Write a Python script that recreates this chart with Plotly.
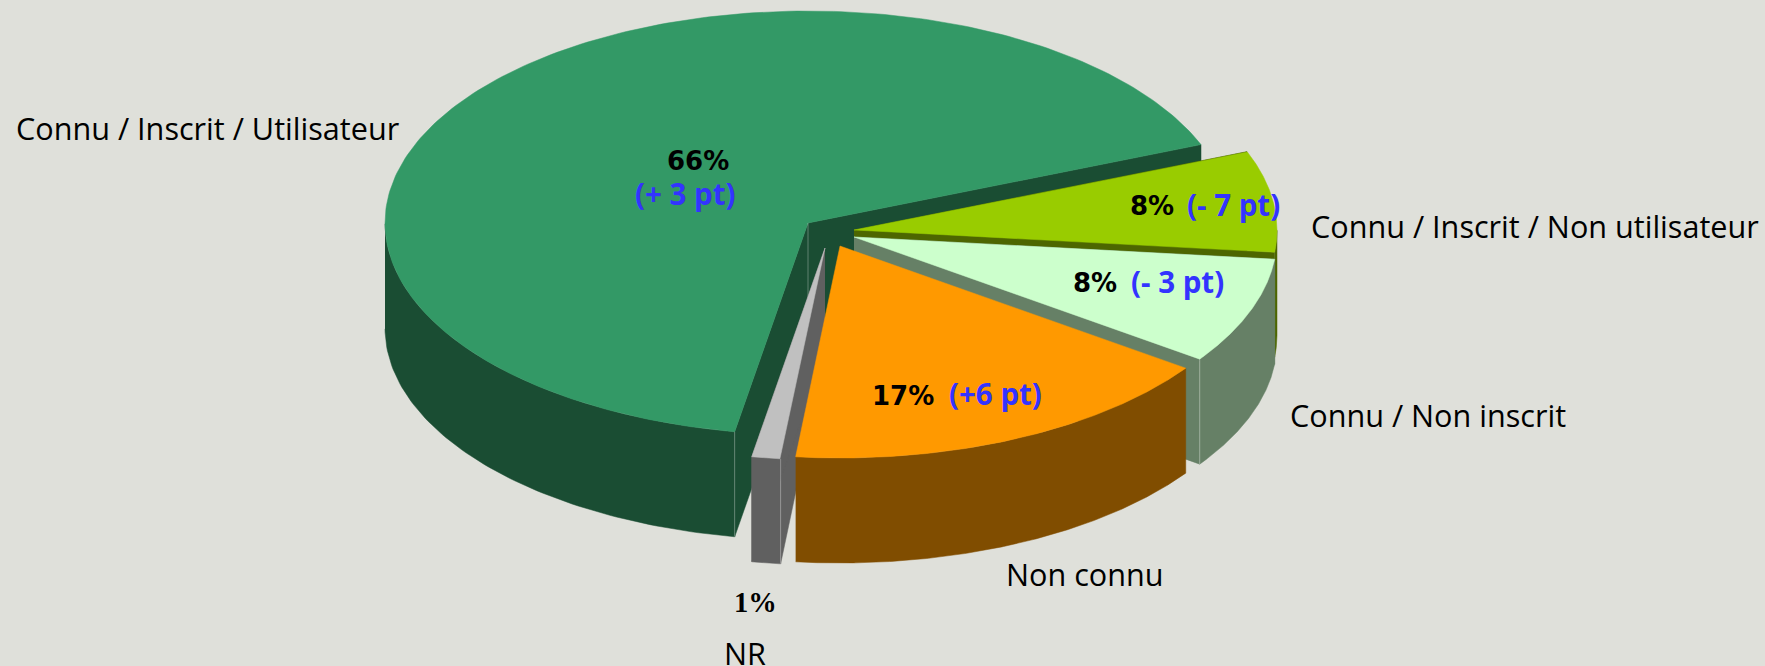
import numpy as np
import plotly.graph_objects as go

# ---- data (clockwise from the start angle) ----
categories = ["Connu / Inscrit / Non utilisateur", "Connu / Non inscrit", "Non connu", "NR", "Connu / Inscrit / Utilisateur"]
values = [7.7, 8.1, 16.9, 1.1, 66.2]
percent_labels = ["8%", "8%", "17%", "1%", "66%"]
delta_labels = ["(- 7 pt)", "(- 3 pt)", "(+6 pt)", "", "(+ 3 pt)"]

# ---- styles / geometry ----
W, H = 1765, 666
BG = "#DFE0DA"
START = 21.7
RX, RY, DEPTH = 423, 212, 105
top_colors = ["#99CC00", "#CCFFCC", "#FF9900", "#C0C0C0", "#339966"]
side_colors = ["#4D6600", "#668066", "#804D00", "#606060", "#1A4D33"]
apex = [(854, 230), (854, 237), (840, 246), (825, 248), (808, 223)]
draw_order = [4, 0, 1, 3, 2]
label_xy = [(1308.5, 226), (1288, 415), (1004, 574), (722, 653), (13.5, 128)]
pct_xy = [(1128, 206), (1071, 283), (870, 396), (732, 602), (665, 161)]
delta_xy = [(1185, 204), (1129, 281), (947, 393), None, (633, 193)]
BLUE = "#3333FF"

fig = go.Figure()


def poly(xs, ys, color):
    fig.add_trace(go.Scatter(x=xs, y=ys, mode="lines", fill="toself", fillcolor=color,
                             line=dict(color=color, width=0.5), hoverinfo="skip", showlegend=False))


def seam(x, y, color):
    fig.add_trace(go.Scatter(x=[x, x], y=[y, y + DEPTH], mode="lines",
                             line=dict(color=color, width=1), hoverinfo="skip", showlegend=False))


shares = np.array(values) / np.sum(values) * 360.0
ends = START - np.cumsum(shares)
starts = ends + shares
seam_color = "rgba(255,255,255,0.3)"

for i in draw_order:
    cx, cy = apex[i]
    a0, a1 = starts[i], ends[i]
    px = lambda deg: cx + RX * np.cos(np.radians(deg))
    py = lambda deg: cy - RY * np.sin(np.radians(deg))
    # cut faces (the orange slice shows none to the viewer)
    if i != 2:
        for a in (a0, a1):
            poly([cx, px(a), px(a), cx], [cy, py(a), py(a) + DEPTH, cy + DEPTH], side_colors[i])
    # outer rim: the part of the arc on the viewer's side
    t = np.linspace(a1, a0, 240)
    s = np.mod(t, 360)
    front = t[(s >= 180) & (s <= 360)]
    if front.size:
        poly(np.r_[px(front), px(front)[::-1]], np.r_[py(front), (py(front) + DEPTH)[::-1]], side_colors[i])
    # top
    t = np.linspace(a0, a1, 240)
    poly(np.r_[cx, px(t), cx], np.r_[cy, py(t), cy], top_colors[i])
    # lighter seams between faces
    if i == 4:
        seam(cx, cy, seam_color)
        seam(px(ends[3]), py(ends[3]), seam_color)
    if i == 3:
        seam(px(a0), py(a0), seam_color)
    if i == 1:
        seam(px(a1), py(a1), seam_color)

ann = []


def text(x, y, s, size, color="#000000", family="Open Sans", bold=False):
    ann.append(dict(x=x, y=y, xref="x", yref="y", text=f"<b>{s}</b>" if bold else s, showarrow=False,
                    xanchor="left", yanchor="middle", align="left",
                    font=dict(family=family, size=size, color=color)))


for i, name in enumerate(categories):
    text(label_xy[i][0], label_xy[i][1], name, 30.6, family="Open Sans")
    if percent_labels[i] == "1%":
        text(pct_xy[i][0], pct_xy[i][1], percent_labels[i], 28.5, family="Liberation Serif", bold=True)
    else:
        text(pct_xy[i][0], pct_xy[i][1], percent_labels[i], 26, family="DejaVu Sans", bold=True)
    if delta_labels[i]:
        text(delta_xy[i][0], delta_xy[i][1], delta_labels[i], 29.5, color=BLUE, family="Open Sans", bold=True)

fig.update_layout(
    width=W, height=H, margin=dict(l=0, r=0, t=0, b=0), autosize=False,
    paper_bgcolor=BG, plot_bgcolor=BG, annotations=ann, showlegend=False,
    xaxis=dict(range=[0, W], visible=False, fixedrange=True),
    yaxis=dict(range=[H, 0], visible=False, fixedrange=True),
)
fig.write_html("out.html", config={"displayModeBar": False},
               post_script="document.body.style.margin='0';document.body.style.overflow='hidden';document.body.style.background='%s';" % BG)
